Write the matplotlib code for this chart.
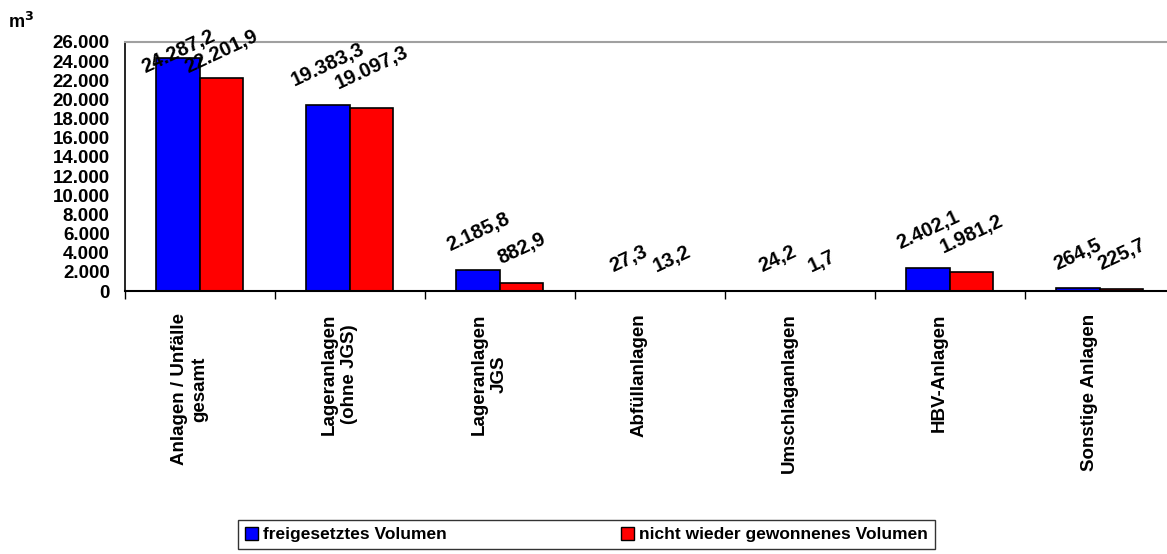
import numpy as np
import matplotlib
matplotlib.use("Agg")
import matplotlib.pyplot as plt
from matplotlib.patches import Patch

plt.rcParams['font.family'] = ['Liberation Sans', 'DejaVu Sans']
plt.rcParams['font.weight'] = 'bold'

categories = ["Anlagen / Unfälle\ngesamt", "Lageranlagen\n(ohne JGS)", "Lageranlagen\nJGS",
              "Abfüllanlagen", "Umschlaganlagen", "HBV-Anlagen", "Sonstige Anlagen"]
freigesetzt = [24287.2, 19383.3, 2185.8, 27.3, 24.2, 2402.1, 264.5]
nicht_wieder = [22201.9, 19097.3, 882.9, 13.2, 1.7, 1981.2, 225.7]
series_names = ["freigesetztes Volumen", "nicht wieder gewonnenes Volumen"]
yticks = np.arange(0, 26001, 2000)


def fmt_de(v, dec=1):
    s = f"{v:,.{dec}f}"
    return s.replace(",", "X").replace(".", ",").replace("X", ".")


fig = plt.figure(figsize=(11.67, 5.54), dpi=100)
ax = fig.add_axes([125 / 1167, 263 / 554, 1042 / 1167, 249 / 554])

x = np.arange(len(categories))
w = 0.29
b1 = ax.bar(x - w / 2, freigesetzt, w, color="#0000ff", edgecolor="black", linewidth=1.2)
b2 = ax.bar(x + w / 2, nicht_wieder, w, color="#ff0000", edgecolor="black", linewidth=1.2)

ax.set_xlim(-0.5, 6.45)
ax.set_ylim(0, 26000)
ax.set_yticks(yticks)
ax.set_yticklabels([fmt_de(t, 0) for t in yticks], fontsize=13.5, fontweight="bold")
ax.tick_params(axis="y", length=0, pad=11)

ax.set_xticks(np.arange(-0.5, 6.5, 1.0))
ax.set_xticklabels([])
ax.tick_params(axis="x", length=6, width=1, direction="out")
for xi, lab in zip(x, categories):
    ax.text(xi - 0.07, -0.09, lab, transform=ax.get_xaxis_transform(), rotation=90,
            ha="center", va="top", multialignment="center", fontsize=13.5,
            fontweight="bold")

ax.spines["right"].set_visible(False)
ax.spines["top"].set_color("#a0a0a0")
ax.spines["top"].set_linewidth(1.5)
ax.spines["left"].set_linewidth(1.2)
ax.spines["bottom"].set_linewidth(1.5)

# value labels, pushed down near the top of the plot
gap = 15 * 26000 / 249
cap = 22400
for xs, vals in [(x - w / 2, freigesetzt), (x + w / 2, nicht_wieder)]:
    for xi, v in zip(xs, vals):
        ax.text(xi, min(v + gap, cap), fmt_de(v), rotation=25, ha="center", va="bottom",
                fontsize=14.5, fontweight="bold")

fig.text(8 / 1167, 1 - 22 / 554, "m$^{\\mathbf{3}}$", fontsize=13, fontweight="bold",
         va="center")

handles = [Patch(facecolor="#0000ff", edgecolor="black"),
           Patch(facecolor="#ff0000", edgecolor="black")]
leg = fig.legend(handles, series_names, loc="upper left",
                 bbox_to_anchor=(238 / 1167, 1 - 520 / 554), ncol=2, frameon=True,
                 fancybox=False, edgecolor="black", fontsize=12.5,
                 handlelength=0.75, handleheight=0.75, handletextpad=0.3,
                 columnspacing=10.0, borderpad=0.4, borderaxespad=0)
leg.get_frame().set_linewidth(1.0)
for t in leg.get_texts():
    t.set_fontweight("bold")

fig.savefig("out.png", dpi=100)
